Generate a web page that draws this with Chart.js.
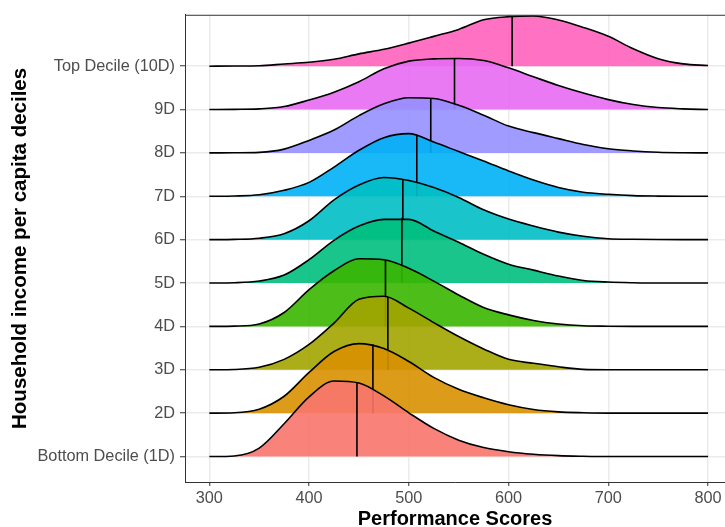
<!DOCTYPE html>
<html><head><meta charset="utf-8">
<script src="https://cdn.jsdelivr.net/npm/chart.js@4"></script>
<style>html,body{margin:0;padding:0;background:#fff}#wrap{width:725px;height:527px}</style>
</head><body><div id="wrap"><canvas id="c" width="725" height="527"></canvas></div>
<script>
const deciles = ['Bottom Decile (1D)','2D','3D','4D','5D','6D','7D','8D','9D','Top Decile (10D)'];
const xTicks = [300,400,500,600,700,800];
const scores = [300,325,350,375,400,425,450,475,500,525,550,575,600,625,650,675,700,725,750,775,800];
const d1  = [0,0.6,8.5,33,60,76,74,61,44,28.3,16.5,9,4.8,2.3,0.9,0.3,0,0,0,0,0];
const d2  = [0,0.4,4,17,41,62,70,65,52,36,24,15.5,8.5,3.7,1.3,0.4,0,0,0,0,0];
const d3  = [0,0.3,2.5,10.5,25.5,47,71,74,62,47.5,33.5,21,10.5,6.5,3,0.4,0,0,0,0,0];
const d4  = [0,0.3,2.5,14,37,56,68,67,58.5,45.6,31.6,19,11.6,6,2.5,0.7,0.2,0,0,0,0];
const d5  = [0,0.3,2,8,23.5,43,57.3,64,64,52.4,41,29,19,13,7,2.6,1,0.3,0,0,0];
const d6  = [0,0.3,1.5,6,19,40,55,62.5,59.5,52.4,42.5,30,20.7,13.7,7.6,3.4,1,0.4,0.1,0,0];
const d7  = [0,0.3,1.5,6,14,29.4,46.3,59,63,54.5,45,35.5,25.5,16.3,8.8,4,2,0.7,0.2,0,0];
const d8  = [0,0.2,0.6,3.8,12.6,23,37.5,49.4,55.5,54.7,48,38,27,20.4,14.4,8.5,4.2,2,0.7,0.2,0];
const d9  = [0,0.2,0.7,3,9.6,17.5,28,41,48.7,51,51.4,49.3,42,33,24.2,16.6,10,5,2,0.7,0];
const d10 = [0,0.2,0.5,2.2,3.9,7,12.4,17,23.2,30,37,46.7,49.8,50.5,46.5,39,30,17.5,7.5,2.3,0.7];
const medians = [448,464,479,476.6,493,494,508,522,545.8,603.6];
const medianHeights = [75,69.3,73.3,66.7,65.7,61,60.7,55,51,50];
const colors = ['#F8766D','#D89000','#A3A500','#39B600','#00BF7D','#00BFC4','#00B0F6','#9590FF','#E76BF3','#FF62BC'];

const densities = [d1,d2,d3,d4,d5,d6,d7,d8,d9,d10];
const SCALE = 1/43.63;
const FAMILY = '"Liberation Sans", Arial, Helvetica, sans-serif';
function rgba(hex, a){
  const n = parseInt(hex.slice(1),16);
  return `rgba(${(n>>16)&255},${(n>>8)&255},${n&255},${a})`;
}
const datasets = [];
densities.forEach((d,i)=>{
  datasets.push({
    data:[{x:medians[i],y:i},{x:medians[i],y:i+medianHeights[i]*SCALE}],
    borderColor:'#000', borderWidth:1.6, pointRadius:0, fill:false, tension:0
  });
  datasets.push({
    data: scores.map((s,j)=>({x:s,y:i+d[j]*SCALE})),
    borderColor:'#000', borderWidth:1.6, backgroundColor: rgba(colors[i],0.9),
    fill:{value:i}, pointRadius:0, cubicInterpolationMode:'monotone'
  });
});

const topBorder = {
  id:'topBorder',
  afterDraw(c){
    const {ctx, chartArea:a} = c;
    ctx.save();
    ctx.strokeStyle='#333333'; ctx.lineWidth=1;
    ctx.beginPath(); ctx.moveTo(a.left, a.top+0.5); ctx.lineTo(a.right, a.top+0.5); ctx.stroke();
    ctx.restore();
  }
};

new Chart(document.getElementById('c'), {
  type:'line',
  data:{datasets},
  options:{
    responsive:false, animation:false, devicePixelRatio:1,
    layout:{padding:{top:12,right:0,bottom:0,left:0}},
    plugins:{legend:{display:false}, tooltip:{enabled:false}},
    scales:{
      x:{
        type:'linear', min:275.6, max:817,
        afterBuildTicks:s=>{s.ticks = xTicks.map(v=>({value:v}));},
        afterFit:s=>{s.height=45;},
        ticks:{font:{family:FAMILY,size:16.3}, color:'#4D4D4D', padding:2.5, maxRotation:0, autoSkip:false},
        grid:{color:'#EBEBEB', lineWidth:1.5, tickLength:4, tickColor:'#333333', tickWidth:1},
        border:{color:'#333333', width:1},
        title:{display:true, text:'Performance Scores', color:'#000', padding:0,
               font:{family:FAMILY, size:20, weight:'bold', lineHeight:0.8}}
      },
      y:{
        type:'linear', min:-0.587, max:10.185,
        afterBuildTicks:s=>{s.ticks = deciles.map((_,i)=>({value:i}));},
        afterFit:s=>{s.width=185;},
        ticks:{font:{family:FAMILY,size:16.3}, color:'#4D4D4D', padding:5, autoSkip:false,
               callback:v=>deciles[Math.round(v)]},
        grid:{color:'#EBEBEB', lineWidth:1.5, tickLength:5, tickColor:'#333333', tickWidth:1},
        border:{color:'#333333', width:1},
        title:{display:true, text:'Household income per capita deciles', color:'#000', padding:{top:12.5,bottom:0},
               font:{family:FAMILY, size:20.5, weight:'bold', lineHeight:0.8}}
      }
    }
  },
  plugins:[topBorder]
});
</script></body></html>
